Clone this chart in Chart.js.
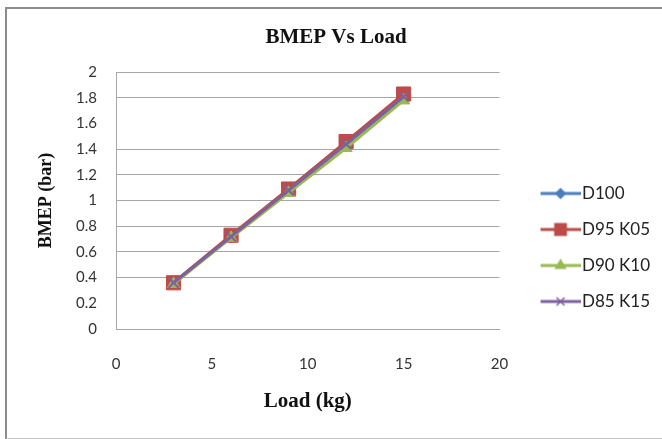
<!DOCTYPE html>
<html>
<head>
<meta charset="utf-8">
<script src="https://cdn.jsdelivr.net/npm/chart.js@4.4.1/dist/chart.umd.min.js"></script>
<style>
  html, body { margin: 0; padding: 0; background: #fff; }
  #wrap { position: relative; width: 662px; height: 439px; overflow: hidden; }
  #frame {
    position: absolute; left: 5px; top: 7px; width: 700px; height: 429px;
    border-left: 2px solid #8c8c8c; border-top: 2px solid #8c8c8c; border-bottom: 1px solid #c4c4c4;
    pointer-events: none;
  }
</style>
</head>
<body>
<div id="wrap">
  <canvas id="bmep" width="662" height="439"></canvas>
  <div id="frame"></div>
</div>
<script>
// load in kg
const loads = [3, 6, 9, 12, 15];

// BMEP (bar) per blend
const d100 = [0.36, 0.72, 1.08, 1.44, 1.80];
const d95k05 = [0.36, 0.73, 1.09, 1.46, 1.83];
const d90k10 = [0.35, 0.71, 1.06, 1.41, 1.78];
const d85k15 = [0.36, 0.72, 1.08, 1.44, 1.81];

const seriesNames = ['D100', 'D95 K05', 'D90 K10', 'D85 K15'];
const xTicks = [0, 5, 10, 15, 20];
const yTicks = ['0', '0.2', '0.4', '0.6', '0.8', '1', '1.2', '1.4', '1.6', '1.8', '2'];

const series = [
  { values: d100,   color: '#4a7ebb', style: 'rectRot',  radius: 6 },
  { values: d95k05, color: '#be4b48', style: 'rect',     radius: 10 },
  { values: d90k10, color: '#98b954', style: 'triangle', radius: 7 },
  { values: d85k15, color: '#7d60a0', style: 'crossRot', radius: 7 }
];

// little line+marker pictures for the legend
function legendIcon(s) {
  const c = document.createElement('canvas');
  c.width = 69; c.height = 20;
  const ctx = c.getContext('2d');
  ctx.strokeStyle = s.color;
  ctx.fillStyle = s.color;
  ctx.lineWidth = 3;
  ctx.beginPath();
  ctx.moveTo(29, 10);
  ctx.lineTo(69, 10);
  ctx.stroke();
  ctx.lineWidth = 1.5;
  Chart.helpers.drawPoint(ctx, { pointStyle: s.style, radius: s.radius * 0.8, rotation: 0, borderWidth: 1.5 }, 49, 10);
  return c;
}
const icons = series.map(legendIcon);

const datasets = series.map((s, i) => ({
  label: seriesNames[i],
  data: loads.map((x, j) => ({ x, y: s.values[j] })),
  borderColor: s.color,
  backgroundColor: s.color,
  borderWidth: 3,
  pointStyle: s.style,
  pointRadius: s.radius,
  pointBorderWidth: s.style === 'crossRot' ? 2 : 1,
  pointBorderColor: s.color,
  pointBackgroundColor: s.color,
  tension: 0,
  order: series.length - i
}));

new Chart(document.getElementById('bmep'), {
  type: 'line',
  data: { datasets },
  options: {
    responsive: false,
    animation: false,
    layout: { padding: { left: 12, right: 2, top: 0, bottom: 0 } },
    plugins: {
      title: {
        display: true,
        text: 'BMEP Vs Load',
        color: '#111',
        font: { family: 'Liberation Serif', size: 21, weight: 'bold' },
        padding: { top: 25, bottom: 22 }
      },
      legend: {
        position: 'right',
        align: 'end',
        fullSize: false,
        labels: {
          usePointStyle: true,
          pointStyleWidth: 55,
          padding: 19,
          color: '#222',
          font: { family: 'Lato', size: 17 },
          generateLabels: () => series.map((s, i) => ({
            text: seriesNames[i],
            pointStyle: icons[i],
            fillStyle: s.color,
            strokeStyle: s.color,
            lineWidth: 0,
            hidden: false,
            datasetIndex: i,
            fontColor: '#222'
          }))
        }
      },
      tooltip: { enabled: false }
    },
    scales: {
      x: {
        type: 'linear',
        min: 0,
        max: 20,
        afterBuildTicks: (scale) => { scale.ticks = xTicks.map(v => ({ value: v })); },
        afterFit: (scale) => { scale.height = 110; },
        grid: { display: false, drawTicks: false },
        border: { display: true, color: '#a6a6a6', width: 1 },
        ticks: { padding: 26, color: '#333', font: { family: 'Lato', size: 15 } },
        title: {
          display: true,
          text: 'Load (kg)',
          color: '#111',
          font: { family: 'Liberation Serif', size: 21, weight: 'bold' },
          padding: { top: 0, bottom: 25 }
        }
      },
      y: {
        min: 0,
        max: 2,
        afterBuildTicks: (scale) => { scale.ticks = yTicks.map(t => ({ value: Number(t) })); },
        afterFit: (scale) => { scale.width = 104; },
        grid: {
          drawTicks: false,
          color: (ctx) => {
            const v = ctx.tick ? ctx.tick.value : null;
            return (v === 0.2 || v === 1.6) ? 'rgba(0,0,0,0)' : '#a6a6a6';
          }
        },
        border: { display: true, color: '#a6a6a6', width: 1 },
        ticks: {
          padding: 19,
          color: '#333',
          font: { family: 'Lato', size: 15 },
          callback: (value, i) => yTicks[i]
        },
        title: {
          display: true,
          text: 'BMEP (bar)',
          color: '#111',
          font: { family: 'Liberation Serif', size: 18, weight: 'bold' },
          padding: { top: 24, bottom: 0 }
        }
      }
    }
  }
});
</script>
</body>
</html>
